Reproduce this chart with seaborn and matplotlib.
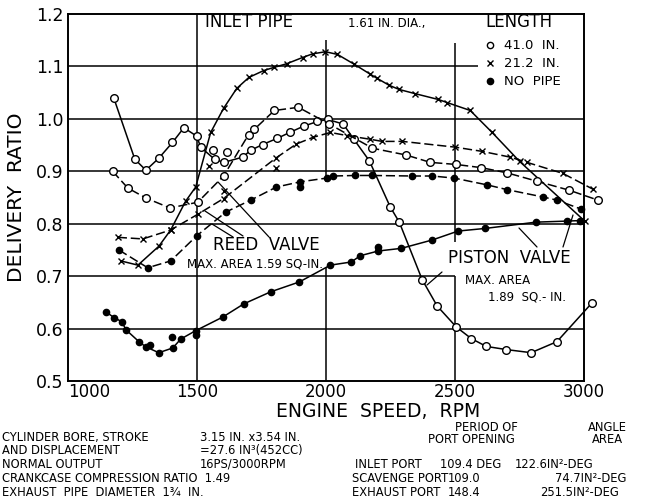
import numpy as np
import seaborn as sns
import matplotlib.pyplot as plt
from matplotlib.lines import Line2D

# --- piston valve, solid lines ---
piston_41_rpm = [1178, 1259, 1302, 1352, 1405, 1449, 1499, 1514, 1568, 1604, 1677, 1708, 1754, 1812,
                 1859, 1913, 1967, 2006, 2067, 2108, 2168, 2249, 2284, 2373, 2431, 2505, 2563, 2621,
                 2698, 2795, 2895, 3031]
piston_41_ratio = [1.039, 0.923, 0.902, 0.925, 0.955, 0.983, 0.967, 0.946, 0.923, 0.917, 0.927, 0.940,
                   0.951, 0.963, 0.974, 0.986, 0.995, 0.999, 0.990, 0.961, 0.920, 0.832, 0.803, 0.693,
                   0.643, 0.603, 0.581, 0.566, 0.560, 0.554, 0.575, 0.649]
piston_21_rpm = [1205, 1271, 1352, 1398, 1456, 1495, 1553, 1603, 1654, 1701, 1758, 1797, 1847, 1909,
                 1948, 1998, 2044, 2110, 2172, 2199, 2245, 2284, 2346, 2435, 2470, 2559, 2644, 2750, 3003]
piston_21_ratio = [0.729, 0.721, 0.757, 0.788, 0.843, 0.870, 0.974, 1.020, 1.058, 1.079, 1.092, 1.098,
                   1.105, 1.117, 1.124, 1.128, 1.123, 1.104, 1.085, 1.077, 1.064, 1.056, 1.048, 1.037,
                   1.031, 1.016, 0.974, 0.919, 0.805]
piston_np_rpm = [1147, 1178, 1209, 1224, 1275, 1302, 1352, 1406, 1437, 1495, 1600, 1681, 1785, 1897,
                 2017, 2098, 2133, 2203, 2292, 2412, 2512, 2617, 2814, 2934, 2985]
piston_np_ratio = [0.632, 0.621, 0.613, 0.598, 0.575, 0.565, 0.554, 0.563, 0.580, 0.596, 0.622, 0.647,
                   0.670, 0.689, 0.721, 0.727, 0.739, 0.748, 0.753, 0.769, 0.786, 0.791, 0.803, 0.805,
                   0.806]

# --- reed valve, dashed lines ---
reed_41_rpm = [1173, 1232, 1302, 1395, 1503, 1603, 1700, 1722, 1800, 1893, 2013, 2180, 2311, 2404,
               2505, 2601, 2702, 2818, 2942, 3054]
reed_41_ratio = [0.900, 0.868, 0.849, 0.830, 0.841, 0.891, 0.970, 0.980, 1.016, 1.022, 0.990, 0.944,
                 0.931, 0.917, 0.913, 0.907, 0.897, 0.881, 0.864, 0.845]
reed_21_rpm = [1193, 1290, 1398, 1503, 1603, 1805, 1885, 1951, 2017, 2083, 2172, 2218, 2296, 2501,
               2605, 2714, 2779, 2918, 3034]
reed_21_ratio = [0.774, 0.771, 0.788, 0.818, 0.848, 0.925, 0.952, 0.965, 0.974, 0.968, 0.961, 0.957,
                 0.957, 0.946, 0.938, 0.927, 0.917, 0.896, 0.866]
reed_np_rpm = [1197, 1309, 1398, 1499, 1611, 1708, 1808, 1901, 2002, 2029, 2114, 2180, 2334, 2412,
               2497, 2625, 2702, 2841, 2895, 2988]
reed_np_ratio = [0.750, 0.716, 0.729, 0.777, 0.822, 0.845, 0.870, 0.880, 0.887, 0.891, 0.892, 0.892,
                 0.891, 0.891, 0.887, 0.874, 0.865, 0.851, 0.845, 0.828]

# scattered test points lying off the faired curves
extra_o_rpm = [1561, 1615]
extra_o_ratio = [0.940, 0.936]
extra_x_rpm = [1545, 1808, 1603]
extra_x_ratio = [0.910, 0.907, 0.862]
extra_dot_rpm = [1317, 1402, 1495, 1901, 2203]
extra_dot_ratio = [0.569, 0.584, 0.587, 0.870, 0.755]

sns.set_theme(style='white')
plt.rcParams['font.family'] = ['DejaVu Sans']
plt.rcParams['text.color'] = 'black'

fig = plt.figure(figsize=(6.68, 4.98), dpi=100)
ax = fig.add_axes([68 / 668, 1 - 381 / 498, 516 / 668, 367 / 498])

DASH = (0, (6, 2.5))
styles = [
    (piston_41_rpm, piston_41_ratio, '-', 'o', 'white'),
    (piston_21_rpm, piston_21_ratio, '-', 'x', 'black'),
    (piston_np_rpm, piston_np_ratio, '-', 'o', 'black'),
    (reed_41_rpm, reed_41_ratio, DASH, 'o', 'white'),
    (reed_21_rpm, reed_21_ratio, DASH, 'x', 'black'),
    (reed_np_rpm, reed_np_ratio, DASH, 'o', 'black'),
    (extra_o_rpm, extra_o_ratio, 'none', 'o', 'white'),
    (extra_x_rpm, extra_x_ratio, 'none', 'x', 'black'),
    (extra_dot_rpm, extra_dot_ratio, 'none', 'o', 'black'),
]
for rpm, ratio, ls, mk, fc in styles:
    ms = 4.5 if mk == 'x' else (5.5 if fc == 'white' else 4.5)
    sns.lineplot(x=rpm, y=ratio, ax=ax, color='black', linestyle=ls, lw=1.1,
                 marker=mk, markersize=ms, markerfacecolor=fc, markeredgecolor='black',
                 markeredgewidth=1, estimator=None, sort=False, errorbar=None,
                 clip_on=False, zorder=3)

# partial grid lines, as on the original sheet
for yv, x0, x1 in [(1.1, 1000, 2590), (1.0, 1000, 3000), (0.9, 1000, 3000),
                   (0.8, 1000, 3000), (0.7, 1000, 2500), (0.6, 1000, 3000)]:
    ax.hlines(yv, x0, x1, color='black', lw=1.1, zorder=1)
for xv, y0, y1 in [(1500, 0.5, 1.2), (2000, 0.5, 0.715), (2000, 0.88, 1.15),
                   (2500, 0.5, 0.70), (2500, 0.765, 1.145)]:
    ax.vlines(xv, y0, y1, color='black', lw=1.1, zorder=1)

ax.set_xlim(1000, 3000)
ax.set_ylim(0.5, 1.2)
ax.set_xticks([1000, 1500, 2000, 2500, 3000])
ax.set_xticklabels(['1000', '1500', '2000', '2500', '3000'], fontsize=12)
ax.set_yticks([0.5, 0.6, 0.7, 0.8, 0.9, 1.0, 1.1, 1.2])
ax.set_yticklabels(['0.5', '0.6', '0.7', '0.8', '0.9', '1.0', '1.1', '1.2'], fontsize=12.5)
ax.get_xticklabels()[0].set_ha('left')
ax.tick_params(axis='x', length=0, pad=1.5, colors='black')
ax.tick_params(axis='y', length=0, pad=3, colors='black')
ax.set_xlabel('')
ax.set_ylabel('')
for sp in ax.spines.values():
    sp.set_color('black')
    sp.set_linewidth(1.4)

fig.text(378 / 668, 1 - 411 / 498, 'ENGINE  SPEED,  RPM', ha='center', va='center', fontsize=13.5)
fig.text(17 / 668, 1 - 197 / 498, 'DELIVERY  RATIO', rotation=90, ha='center', va='center',
         fontsize=14.5)

def fx(px):
    return (px - 68) / 516

def fy(py):
    return (381 - py) / 367

ax.text(fx(205), fy(22), 'INLET PIPE', transform=ax.transAxes, fontsize=12, va='center')
ax.text(fx(348), fy(23), '1.61 IN. DIA.,', transform=ax.transAxes, fontsize=8.5, va='center')
ax.text(fx(485), fy(22), 'LENGTH', transform=ax.transAxes, fontsize=12, va='center')

# legend entries
legend_rows = [('o', 'white', '41.0  IN.', 45), ('x', 'black', '21.2  IN.', 63),
               ('o', 'black', 'NO  PIPE', 81)]
for mk, fc, lab, py in legend_rows:
    ax.add_line(Line2D([fx(490)], [fy(py)], transform=ax.transAxes, marker=mk, ls='none',
                       markersize=4.5, markerfacecolor=fc, markeredgecolor='black', mew=1))
    ax.text(fx(504), fy(py), lab, transform=ax.transAxes, fontsize=9.5, va='center')

ax.text(fx(213), fy(245), 'REED  VALVE', transform=ax.transAxes, fontsize=12, va='center')
ax.text(fx(187), fy(264), 'MAX. AREA 1.59 SQ-IN.', transform=ax.transAxes, fontsize=8.5,
        va='center')
ax.text(fx(448), fy(258), 'PISTON  VALVE', transform=ax.transAxes, fontsize=12, va='center')
ax.text(fx(465), fy(280), 'MAX. AREA', transform=ax.transAxes, fontsize=8.5, va='center')
ax.text(fx(488), fy(297), '1.89  SQ.- IN.', transform=ax.transAxes, fontsize=8.5, va='center')

# leader lines
for (x0, y0), (x1, y1) in [((218, 182), (269, 237)), ((205, 211), (243, 236)),
                           ((212, 224), (233, 237)), ((519, 228), (537, 247)),
                           ((573, 215), (563, 247)), ((427, 285), (442, 272))]:
    ax.add_line(Line2D([fx(x0), fx(x1)], [fy(y0), fy(y1)], transform=ax.transAxes,
                       color='black', lw=0.9))

# engine data block
notes = [
    (2, 437, 'CYLINDER BORE, STROKE'), (200, 437, '3.15 IN. x3.54 IN.'),
    (2, 450, 'AND DISPLACEMENT'), (200, 450, '=27.6 IN³(452CC)'),
    (2, 464, 'NORMAL OUTPUT'), (200, 464, '16PS/3000RPM'),
    (2, 478, 'CRANKCASE COMPRESSION RATIO  1.49'),
    (2, 492, 'EXHAUST  PIPE  DIAMETER  1¾  IN.'),
    (455, 427, 'PERIOD OF'), (588, 427, 'ANGLE'),
    (428, 439, 'PORT OPENING'), (592, 439, 'AREA'),
    (355, 464, 'INLET PORT'), (440, 464, '109.4 DEG'), (515, 464, '122.6IN²-DEG'),
    (352, 478, 'SCAVENGE PORT'), (448, 478, '109.0'), (555, 478, '74.7IN²-DEG'),
    (352, 492, 'EXHAUST PORT'), (448, 492, '148.4'), (540, 492, '251.5IN²-DEG'),
]
for px, py, s in notes:
    fig.text(px / 668, 1 - py / 498, s, ha='left', va='center', fontsize=8.3)

fig.savefig('out.png', dpi=100)
